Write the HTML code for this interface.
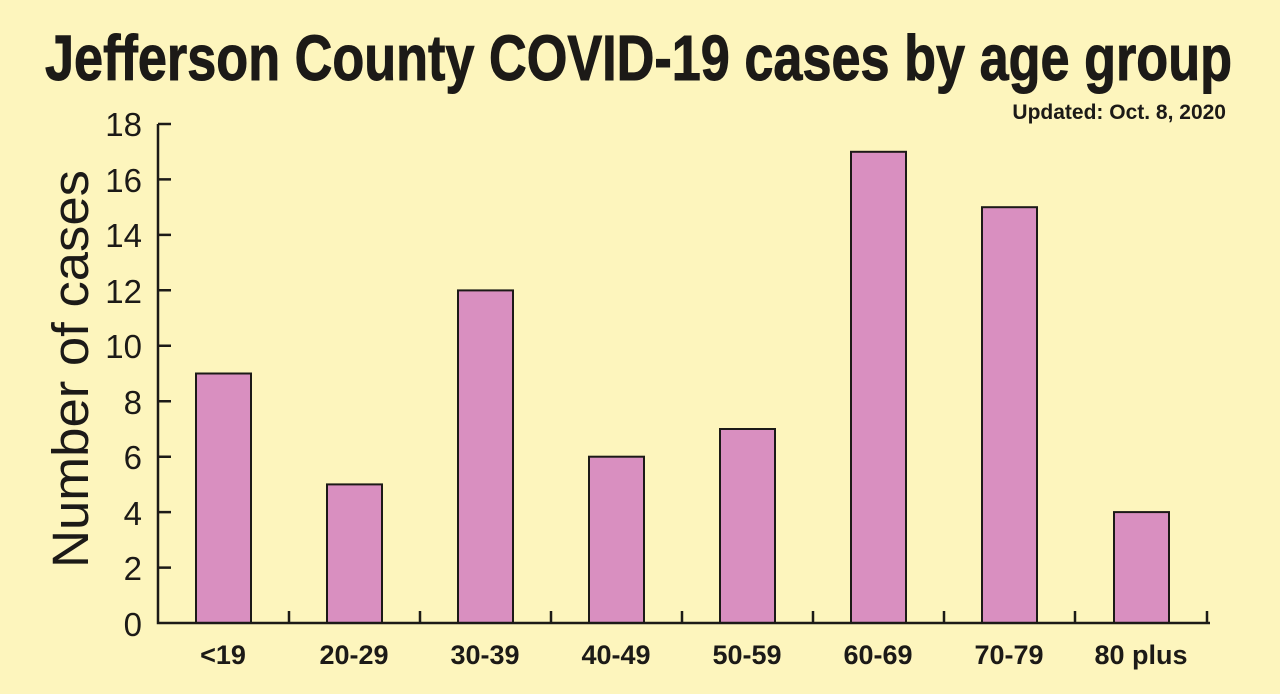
<!DOCTYPE html>
<html><head><style>
html,body{margin:0;padding:0;background:#fdf5bd;}
svg{display:block}
</style></head><body>
<svg width="1280" height="694" viewBox="0 0 1280 694" xmlns="http://www.w3.org/2000/svg">
<rect width="1280" height="694" fill="#fdf5bd"/>
<text x="45" y="80" font-family="Liberation Sans Narrow, Liberation Sans, sans-serif" font-weight="bold" font-size="64" fill="#1c1a17" textLength="1187" lengthAdjust="spacingAndGlyphs" stroke="#1c1a17" stroke-width="1">Jefferson County COVID-19 cases by age group</text>
<text x="1226" y="119" text-anchor="end" font-family="Liberation Sans, sans-serif" font-weight="bold" font-size="21" fill="#1c1a17">Updated: Oct. 8, 2020</text>
<text transform="translate(88,369) rotate(-90)" text-anchor="middle" font-family="Liberation Sans, sans-serif" font-size="51" fill="#1c1a17" textLength="398" lengthAdjust="spacingAndGlyphs">Number of cases</text>
<g font-family="Liberation Sans, sans-serif" font-size="33" fill="#1c1a17" text-anchor="end">
<text x="142" y="636">0</text><text x="142" y="580">2</text><text x="142" y="525">4</text><text x="142" y="469">6</text><text x="142" y="414">8</text><text x="142" y="358">10</text><text x="142" y="303">12</text><text x="142" y="247">14</text><text x="142" y="192">16</text><text x="142" y="136">18</text>
</g>
<g fill="#d98fc0" stroke="#1c1a17" stroke-width="2">
<rect x="196" y="373.5" width="55" height="249.5"/>
<rect x="327" y="484.4" width="55" height="138.6"/>
<rect x="458" y="290.4" width="55" height="332.6"/>
<rect x="589" y="456.7" width="55" height="166.3"/>
<rect x="720" y="429" width="55" height="194"/>
<rect x="851" y="151.8" width="55" height="471.2"/>
<rect x="982" y="207.2" width="55" height="415.8"/>
<rect x="1114" y="512.1" width="55" height="110.9"/>
</g>
<g stroke="#1c1a17" stroke-width="2.5" fill="none">
<path d="M158 124 V623 H1210"/>
<path d="M158 124h13M158 179.4h13M158 234.9h13M158 290.3h13M158 345.8h13M158 401.2h13M158 456.7h13M158 512.1h13M158 567.6h13"/>
<path d="M289 623v-12M420 623v-12M551 623v-12M682 623v-12M813 623v-12M944 623v-12M1075 623v-12M1207 623v-12"/>
</g>
<g font-family="Liberation Sans, sans-serif" font-weight="bold" font-size="27" fill="#1c1a17" text-anchor="middle">
<text x="223" y="664">&lt;19</text><text x="354" y="664">20-29</text><text x="485" y="664">30-39</text><text x="616" y="664">40-49</text><text x="747" y="664">50-59</text><text x="878" y="664">60-69</text><text x="1009" y="664">70-79</text><text x="1141" y="664">80 plus</text>
</g>
</svg>
</body></html>
